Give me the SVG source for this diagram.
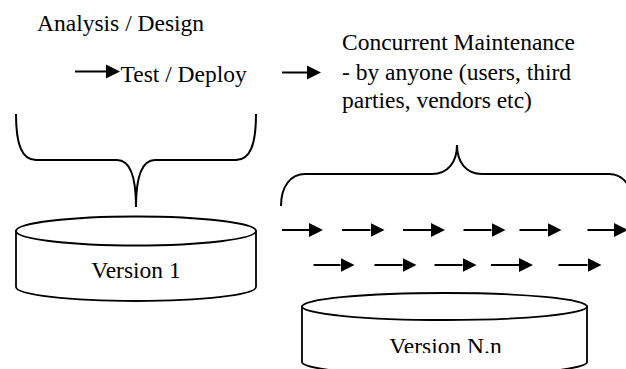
<svg xmlns="http://www.w3.org/2000/svg" width="626" height="369" viewBox="0 0 626 369">
  <style>
    .t { font-family: "Liberation Serif", "Times New Roman", serif; font-size: 23.5px; fill: #000; }
    .brace { fill: none; stroke: #000; stroke-width: 2; }
    .cyl { fill: #fff; stroke: #000; stroke-width: 1.8; }
    .arr { stroke: #000; stroke-width: 2; marker-end: url(#head); }
  </style>
  <defs>
    <marker id="head" markerUnits="userSpaceOnUse" markerWidth="15" markerHeight="15" refX="0" refY="7.5" orient="auto">
      <path d="M0,0.5 L14,7.5 L0,14.5 Z" fill="#000"/>
    </marker>
    <clipPath id="clipN">
      <rect x="300" y="320" width="290" height="33"/>
    </clipPath>
  </defs>
  <rect width="626" height="369" fill="#fff"/>

  <g id="label-analysis">
    <text class="t" x="37" y="31">Analysis / Design</text>
  </g>
  <g id="label-test">
    <text class="t" x="120.5" y="81.5">Test / Deploy</text>
  </g>
  <g id="label-maintenance">
    <text class="t" x="342" y="50">Concurrent Maintenance</text>
    <text class="t" x="342" y="79.5">- by anyone (users, third</text>
    <text class="t" x="342" y="108">parties, vendors etc)</text>
  </g>

  <g id="brace-1">
    <path class="brace" d="M16,114 C16,145 22,160 36,160 L117,160 C130,160 136,178 136,207"/>
    <path class="brace" d="M256,114 C256,145 250,160 236,160 L155,160 C142,160 136,178 136,207"/>
  </g>
  <g id="brace-2">
    <path class="brace" d="M281,206 C281,186 291,174 305,174 L432,174 C448,174 457,162 457,145"/>
    <path class="brace" d="M633,206 C633,186 623,174 609,174 L482,174 C466,174 457,162 457,145"/>
  </g>

  <g id="version-1">
    <path class="cyl" d="M16,231 L16,287 A120,14 0 0 0 256,287 L256,231 Z"/>
    <ellipse class="cyl" cx="136" cy="231" rx="120" ry="14.5"/>
    <text class="t" x="136" y="278" text-anchor="middle">Version 1</text>
  </g>

  <g id="version-nn">
    <path class="cyl" d="M302,306.5 L302,362 A142.5,13.5 0 0 0 587,362 L587,306.5 Z"/>
    <ellipse class="cyl" cx="444.5" cy="306.5" rx="142.5" ry="13.5"/>
    <text class="t" x="445.5" y="354" text-anchor="middle" clip-path="url(#clipN)">Version N.n</text>
  </g>

  <g id="connectors">
    <line class="arr" x1="75" y1="71.5" x2="106" y2="71.5"/>
    <line class="arr" x1="282" y1="72.5" x2="307" y2="72.5"/>

    <line class="arr" x1="282" y1="230" x2="309" y2="230"/>
    <line class="arr" x1="342" y1="230" x2="370.5" y2="230"/>
    <line class="arr" x1="403" y1="230" x2="431" y2="230"/>
    <line class="arr" x1="463.5" y1="230" x2="491.5" y2="230"/>
    <line class="arr" x1="519.5" y1="230" x2="547.5" y2="230"/>
    <line class="arr" x1="587.5" y1="230" x2="614" y2="230"/>

    <line class="arr" x1="313.5" y1="265" x2="340.5" y2="265"/>
    <line class="arr" x1="374.5" y1="265" x2="402.5" y2="265"/>
    <line class="arr" x1="434.5" y1="265" x2="462.5" y2="265"/>
    <line class="arr" x1="491" y1="265" x2="519" y2="265"/>
    <line class="arr" x1="558.5" y1="265" x2="587.5" y2="265"/>
  </g>
</svg>
